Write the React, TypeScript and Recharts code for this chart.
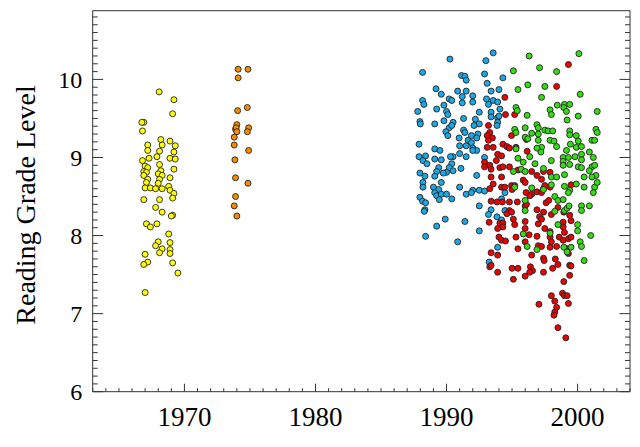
import React from 'react';
import { ScatterChart, Scatter, XAxis, YAxis, Label } from 'recharts';

// [year, reading grade level]
const yellow: [number, number][] = [
  [1968.07, 9.84], [1969.2, 9.74], [1969.1, 9.56], [1966.9, 9.45], [1966.75, 9.45], [1966.8, 9.34],
  [1968.2, 9.23], [1968.9, 9.21], [1967.2, 9.16], [1968.3, 9.16], [1969.3, 9.15], [1967.2, 9.09],
  [1968.1, 9.08], [1969.2, 9.07], [1967.9, 9.01], [1967.3, 8.99], [1968.9, 8.99], [1969.3, 8.98],
  [1966.8, 8.96], [1968.1, 8.91], [1967.0, 8.89], [1967.2, 8.87], [1968.2, 8.83], [1969.2, 8.85],
  [1966.9, 8.82], [1967.1, 8.81], [1968.0, 8.79], [1966.9, 8.77], [1968.3, 8.77], [1968.9, 8.74],
  [1967.2, 8.72], [1968.1, 8.72], [1967.1, 8.68], [1968.0, 8.67], [1967.0, 8.61], [1967.4, 8.61],
  [1967.8, 8.6], [1968.3, 8.6], [1968.8, 8.63], [1968.9, 8.58], [1969.2, 8.54], [1969.1, 8.48],
  [1966.9, 8.46], [1968.1, 8.46], [1967.8, 8.36], [1968.3, 8.3], [1969.1, 8.26], [1969.0, 8.25],
  [1967.1, 8.15], [1967.4, 8.11], [1967.9, 8.15], [1968.8, 8.02], [1968.0, 7.92], [1967.8, 7.87],
  [1968.9, 7.91], [1968.3, 7.83], [1968.9, 7.82], [1968.1, 7.78], [1968.9, 7.77], [1967.0, 7.76],
  [1967.2, 7.66], [1966.9, 7.63], [1969.1, 7.65], [1969.5, 7.52], [1967.0, 7.27],
];

const orange: [number, number][] = [
  [1974.1, 10.13], [1974.85, 10.13], [1974.1, 10.02], [1974.06, 9.6], [1974.8, 9.64], [1974.0, 9.42],
  [1973.9, 9.36], [1973.95, 9.38], [1974.0, 9.33], [1974.9, 9.38], [1974.8, 9.33], [1973.8, 9.26],
  [1973.8, 9.16], [1974.9, 9.09], [1973.85, 8.97], [1973.9, 8.74], [1974.85, 8.67], [1973.9, 8.5],
  [1973.8, 8.38], [1974.0, 8.25],
];

const blue: [number, number][] = [
  [1990.26, 10.26], [1993.56, 10.34], [1993.0, 10.24], [1988.17, 10.09], [1991.14, 10.05], [1991.4, 10.04],
  [1991.5, 9.99], [1992.9, 10.07], [1994.3, 10.02], [1993.1, 9.95], [1989.2, 9.88], [1990.85, 9.85],
  [1991.5, 9.85], [1989.6, 9.81], [1993.4, 9.85], [1994.0, 9.87], [1991.2, 9.78], [1992.0, 9.79],
  [1993.05, 9.75], [1990.2, 9.75], [1990.4, 9.73], [1993.56, 9.73], [1993.9, 9.71], [1988.17, 9.73],
  [1988.27, 9.68], [1989.8, 9.67], [1991.2, 9.7], [1992.0, 9.71], [1993.2, 9.68], [1994.07, 9.62],
  [1989.25, 9.62], [1987.8, 9.59], [1990.0, 9.59], [1990.1, 9.55], [1992.5, 9.58], [1993.4, 9.58],
  [1993.9, 9.51], [1987.97, 9.46], [1988.0, 9.43], [1989.1, 9.43], [1989.8, 9.47], [1990.5, 9.45],
  [1991.3, 9.5], [1992.2, 9.49], [1992.5, 9.43], [1993.9, 9.45], [1990.2, 9.38], [1990.4, 9.41],
  [1992.1, 9.41], [1993.85, 9.41], [1991.3, 9.35], [1989.95, 9.33], [1990.1, 9.28], [1991.4, 9.32],
  [1992.4, 9.3], [1991.9, 9.28], [1990.96, 9.25], [1991.65, 9.22], [1992.3, 9.25], [1987.9, 9.17],
  [1991.9, 9.19], [1991.5, 9.15], [1992.0, 9.12], [1992.3, 9.09], [1992.0, 9.09], [1989.1, 9.11],
  [1991.0, 9.15], [1989.5, 9.09], [1991.0, 9.05], [1991.5, 9.01], [1990.5, 9.01], [1990.3, 9.01],
  [1987.9, 9.01], [1988.4, 9.02], [1988.2, 8.96], [1988.5, 8.92], [1989.1, 8.98], [1989.6, 8.97],
  [1990.4, 8.92], [1991.1, 8.86], [1990.2, 8.87], [1989.4, 8.87], [1990.5, 8.83], [1990.0, 8.81],
  [1989.25, 8.82], [1989.75, 8.8], [1987.97, 8.8], [1989.1, 8.76], [1988.35, 8.76], [1988.2, 8.68],
  [1989.6, 8.68], [1992.3, 8.77], [1991.0, 8.62], [1989.0, 8.62], [1992.0, 8.58], [1992.5, 8.58],
  [1988.2, 8.62], [1989.4, 8.59], [1989.1, 8.55], [1989.25, 8.51], [1989.6, 8.53], [1990.0, 8.53],
  [1989.45, 8.46], [1987.97, 8.49], [1988.17, 8.44], [1988.4, 8.42], [1990.4, 8.47], [1991.5, 8.53],
  [1991.9, 8.55], [1992.9, 8.57], [1988.35, 8.33], [1988.3, 8.31], [1992.5, 8.38], [1989.9, 8.21],
  [1991.4, 8.18], [1989.25, 8.12], [1992.5, 8.06], [1988.4, 7.99], [1990.85, 7.92], [1994.46, 8.55],
  [1994.2, 8.47], [1993.4, 8.33], [1993.2, 8.27], [1993.85, 8.24], [1994.46, 8.32], [1994.2, 8.2],
  [1993.9, 7.85], [1993.25, 7.66], [1992.9, 9.0], [1994.0, 9.53], [1993.4, 9.52],
];

const red: [number, number][] = [
  [1993.2, 9.41], [1993.3, 9.32], [1993.1, 9.28], [1993.5, 9.25], [1993.2, 9.22], [1993.1, 9.13],
  [1993.56, 9.13], [1994.45, 9.77], [1994.5, 9.55], [1994.96, 9.28], [1994.3, 9.17], [1994.6, 9.14],
  [1994.8, 9.12], [1993.9, 9.04], [1994.2, 9.02], [1993.8, 8.96], [1992.9, 8.94], [1992.9, 8.88],
  [1993.3, 8.9], [1993.4, 8.85], [1994.07, 8.87], [1994.3, 8.88], [1994.8, 8.88], [1993.4, 8.75],
  [1994.2, 8.75], [1993.56, 8.66], [1994.2, 8.62], [1994.45, 8.62], [1994.96, 8.64], [1993.3, 8.6],
  [1993.4, 8.44], [1993.85, 8.43], [1994.26, 8.43], [1994.8, 8.43], [1995.4, 8.43], [1995.0, 8.59],
  [1994.8, 8.32], [1994.6, 8.28], [1995.1, 8.21], [1994.07, 8.16], [1994.3, 8.16], [1993.9, 8.09],
  [1994.3, 8.11], [1995.2, 8.14], [1993.25, 8.17], [1994.0, 7.98], [1994.2, 7.94], [1994.5, 7.93],
  [1995.3, 7.98], [1995.45, 7.83], [1993.4, 7.78], [1993.9, 7.75], [1993.3, 7.6], [1993.4, 7.62],
  [1993.9, 7.53], [1995.0, 7.58], [1995.45, 7.58], [1995.1, 7.44],
  [1996.0, 8.38], [1996.1, 8.4], [1996.5, 8.53], [1996.9, 8.56], [1997.25, 8.55], [1997.4, 8.6],
  [1997.9, 8.62], [1997.6, 8.42], [1997.8, 8.45], [1996.9, 8.33], [1997.4, 8.3], [1998.0, 8.27],
  [1998.5, 8.36], [1998.95, 8.3], [1999.4, 8.26], [1999.5, 8.19], [1998.9, 8.17], [1994.96, 8.3],
  [1996.0, 8.18], [1997.1, 8.24], [1997.25, 8.21], [1997.0, 8.15], [1996.0, 8.09], [1997.5, 8.09],
  [1997.9, 8.05], [1998.9, 8.11], [1999.0, 8.04], [1996.3, 8.01], [1996.9, 7.99], [1996.0, 7.92],
  [1997.0, 7.87], [1997.25, 7.86], [1997.9, 7.98], [1998.0, 7.92], [1997.9, 7.85], [1998.4, 7.86],
  [1998.6, 7.98], [1999.3, 7.96], [1999.5, 7.98], [1998.9, 7.94], [1999.2, 7.83], [1999.3, 7.77],
  [1996.5, 7.75], [1997.4, 7.71], [1997.45, 7.68], [1998.3, 7.7], [1998.5, 7.63], [1999.4, 7.62],
  [1999.5, 7.61], [1996.4, 7.6], [1996.56, 7.55], [1996.35, 7.53], [1997.4, 7.53], [1998.1, 7.58],
  [1996.0, 7.48], [1999.4, 7.49], [1998.95, 7.41], [1998.0, 7.23], [1998.26, 7.16], [1998.85, 7.26],
  [1999.0, 7.23], [1999.2, 7.23], [1999.3, 7.13], [1997.05, 7.12], [1998.4, 7.08], [1998.26, 7.02],
  [1998.2, 6.98], [1998.5, 6.82], [1999.1, 6.69], [1996.07, 8.55], [1996.35, 8.51],
  [1999.3, 10.19], [1998.4, 9.91], [1995.2, 9.55], [1995.3, 9.13], [1996.15, 9.08], [1995.45, 8.84],
  [1996.5, 8.82], [1997.4, 8.82], [1997.9, 8.81], [1996.9, 8.77], [1997.25, 8.72], [1995.85, 8.71],
  [1996.0, 8.68], [1997.5, 8.64], [1999.5, 8.65], [1995.2, 8.64], [1996.1, 9.23],
];

const green: [number, number][] = [
  [1996.3, 10.3], [2000.1, 10.33], [1995.1, 10.11], [1997.1, 10.15], [1998.4, 10.1], [1996.2, 9.93],
  [1995.45, 9.87], [1997.5, 9.91], [1997.25, 9.77], [2000.2, 9.81], [1998.45, 9.67], [1999.0, 9.68],
  [1999.4, 9.68], [1995.3, 9.64], [1995.4, 9.6], [1997.9, 9.61], [1998.0, 9.55], [1998.95, 9.64],
  [1999.15, 9.59], [1996.15, 9.54], [2000.05, 9.53], [2001.5, 9.59], [1999.2, 9.48], [1996.9, 9.42],
  [1997.0, 9.38], [1995.2, 9.36], [1995.3, 9.32], [1996.0, 9.38], [1996.5, 9.31], [1996.0, 9.26],
  [1996.2, 9.24], [1997.0, 9.3], [1997.0, 9.22], [1997.5, 9.35], [1997.75, 9.34], [1998.1, 9.34],
  [1997.9, 9.22], [1998.2, 9.21], [1998.4, 9.14], [1999.4, 9.34], [1999.4, 9.29], [1999.9, 9.28],
  [2000.05, 9.21], [2001.4, 9.36], [2001.5, 9.32], [2001.1, 9.22], [2001.3, 9.22], [1995.3, 9.11],
  [1997.25, 9.13], [1997.2, 9.07], [1996.9, 9.12], [1999.15, 9.09], [1999.45, 9.17], [1999.9, 9.13],
  [2000.3, 9.14], [2000.9, 9.07], [2000.3, 9.04], [1995.45, 8.99], [1996.35, 9.01], [1995.85, 8.94],
  [1998.0, 8.96], [1998.9, 9.0], [1998.9, 8.95], [1999.3, 9.0], [1999.8, 9.01], [2000.3, 8.97],
  [2001.2, 9.0], [1996.75, 8.92], [1997.4, 8.86], [1998.9, 8.9], [1999.4, 8.91], [2000.05, 8.88],
  [2000.3, 8.87], [2001.1, 8.88], [2001.3, 8.9], [1995.7, 8.85], [1996.0, 8.82], [1995.1, 8.82],
  [1998.0, 8.75], [1998.4, 8.75], [1999.0, 8.78], [2000.9, 8.83], [2001.4, 8.77], [2000.5, 8.75],
  [2001.1, 8.75], [1995.2, 8.62], [1996.5, 8.61], [1998.0, 8.65], [1999.0, 8.63], [1999.9, 8.66],
  [2000.5, 8.62], [2001.3, 8.62], [2001.5, 8.68], [1997.4, 8.59], [1999.4, 8.58], [1999.3, 8.55],
  [2001.2, 8.55], [1996.0, 8.45], [1996.0, 8.32], [1998.26, 8.5], [1998.5, 8.45], [1998.9, 8.46],
  [1998.26, 8.31], [1999.0, 8.32], [1999.2, 8.35], [1999.35, 8.38], [2000.3, 8.38], [2000.3, 8.32],
  [2000.9, 8.38], [1998.5, 8.14], [2000.0, 8.14], [2000.0, 8.06], [2001.0, 8.0], [1997.9, 8.03],
  [1995.85, 8.02], [1996.15, 7.86], [1996.9, 7.82], [1998.95, 7.85], [1999.5, 7.85], [1999.2, 7.79],
  [2000.2, 7.92], [2000.3, 7.86], [2000.5, 7.68],
];

// tick positions: every year (labels on decades), every 0.1 grade (labels on integers)
const xTicks = Array.from({ length: 42 }, (_, i) => 1963 + i);
const yTicks = Array.from({ length: 49 }, (_, i) => (60 + i) / 10);
const xDomain: [number, number] = [1963, 2004];
const yDomain: [number, number] = [6, 10.88];

const FONT = '"Liberation Serif", "Times New Roman", serif';
const FRAME = '#333';
const X_MAJOR = 8;
const X_MINOR = 3.5;
const Y_MAJOR = 10.5;
const Y_MINOR = 5;

const isDecade = (v: number) => Math.round(v) % 10 === 0;
const isInteger = (v: number) => Math.abs(v - Math.round(v)) < 1e-6;

const toPoints = (arr: [number, number][]) => arr.map(([x, y]) => ({ x, y }));

const dot = (fill: string) => (props: any) => (
  <circle cx={props.cx} cy={props.cy} r={3} fill={fill} stroke="#222" strokeWidth={0.9} />
);

const series = [
  { name: 'yellow', data: yellow, fill: '#ffff00' },
  { name: 'orange', data: orange, fill: '#f58c00' },
  { name: 'blue', data: blue, fill: '#1aa9e6' },
  { name: 'red', data: red, fill: '#ee0000' },
  { name: 'green', data: green, fill: '#33dd11' },
];

// Tick renderers: (x, y) are the positions computed by the axis (tickSize 0, tickMargin 0 -> on the frame)
const BottomTick = (props: any) => {
  const { x, y, payload } = props;
  const v = payload.value;
  const major = isDecade(v);
  return (
    <g>
      <line x1={x} x2={x} y1={y} y2={y - (major ? X_MAJOR : X_MINOR)} stroke={FRAME} strokeWidth={1} />
      {major && (
        <text x={x} y={y + 15.6} dy="0.71em" textAnchor="middle" fontSize={27} fontFamily={FONT} fill="#000">
          {v}
        </text>
      )}
    </g>
  );
};

const TopTick = (props: any) => {
  const { x, y, payload } = props;
  const major = isDecade(payload.value);
  return <line x1={x} x2={x} y1={y} y2={y + (major ? X_MAJOR : X_MINOR)} stroke={FRAME} strokeWidth={1} />;
};

const LeftTick = (props: any) => {
  const { x, y, payload } = props;
  const v = payload.value;
  const major = isInteger(v);
  return (
    <g>
      <line x1={x} x2={x + (major ? Y_MAJOR : Y_MINOR)} y1={y} y2={y} stroke={FRAME} strokeWidth={1} />
      {major && (
        <text x={x - 10.5} y={y} dy="0.355em" textAnchor="end" fontSize={24} fontFamily={FONT} fill="#000">
          {Math.round(v)}
        </text>
      )}
    </g>
  );
};

const RightTick = (props: any) => {
  const { x, y, payload } = props;
  const major = isInteger(payload.value);
  return <line x1={x} x2={x - (major ? Y_MAJOR : Y_MINOR)} y1={y} y2={y} stroke={FRAME} strokeWidth={1} />;
};

const Title = () => (
  <text
    x={35}
    y={205}
    transform="rotate(-90 35 205)"
    textAnchor="middle"
    fontSize={28}
    fontFamily={FONT}
    fill="#000"
  >
    Reading Grade Level
  </text>
);

export default function App() {
  return (
    <div style={{ position: 'absolute', left: 0, top: 0, width: 640, height: 447, background: '#fff' }}>
      <ScatterChart width={640} height={447} margin={{ top: 0, right: 0, bottom: 5.3, left: 0 }}>
        <XAxis
          xAxisId="x"
          dataKey="x"
          type="number"
          orientation="bottom"
          domain={xDomain}
          allowDataOverflow
          ticks={xTicks}
          interval={0}
          height={50}
          tickLine={false}
          axisLine={{ stroke: FRAME }}
          tickSize={0}
          tickMargin={0}
          tick={BottomTick}
        />
        <XAxis
          xAxisId="top"
          type="number"
          orientation="top"
          domain={xDomain}
          allowDataOverflow
          ticks={xTicks}
          interval={0}
          height={10.7}
          tickLine={false}
          axisLine={{ stroke: FRAME }}
          tickSize={0}
          tickMargin={0}
          tick={TopTick}
        />
        <YAxis
          yAxisId="y"
          dataKey="y"
          type="number"
          orientation="left"
          domain={yDomain}
          allowDataOverflow
          ticks={yTicks}
          interval={0}
          width={92.7}
          tickLine={false}
          axisLine={{ stroke: FRAME }}
          tickSize={0}
          tickMargin={0}
          tick={LeftTick}
        >
          <Label content={() => <Title />} />
        </YAxis>
        <YAxis
          yAxisId="right"
          type="number"
          orientation="right"
          domain={yDomain}
          allowDataOverflow
          ticks={yTicks}
          interval={0}
          width={10}
          tickLine={false}
          axisLine={{ stroke: FRAME }}
          tickSize={0}
          tickMargin={0}
          tick={RightTick}
        />

        {series.map((s) => (
          <Scatter
            key={s.name}
            name={s.name}
            xAxisId="x"
            yAxisId="y"
            data={toPoints(s.data)}
            fill={s.fill}
            shape={dot(s.fill)}
            isAnimationActive={false}
          />
        ))}
      </ScatterChart>
    </div>
  );
}
